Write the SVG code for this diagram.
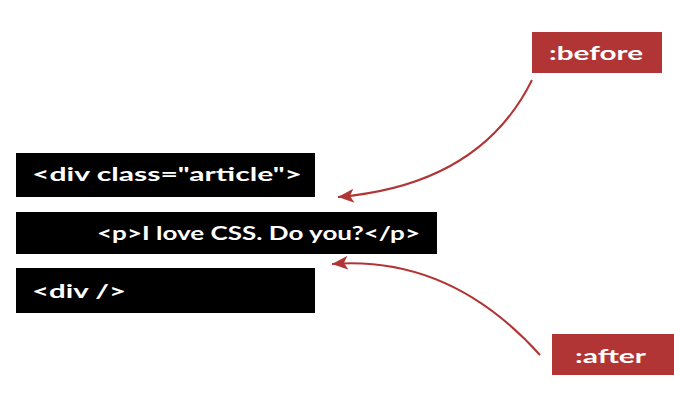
<svg xmlns="http://www.w3.org/2000/svg" width="674" height="416" viewBox="0 0 674 416">
<style>
.code{fill:#000}
.tag{fill:#b23535}
.t{font-family:Lato,"Liberation Sans",sans-serif;font-weight:bold;font-size:19px;fill:#fff}
.arr{fill:none;stroke:#b23535;stroke-width:2}
</style>
<defs>
<marker id="ah" markerUnits="userSpaceOnUse" markerWidth="18" markerHeight="14" refX="16" refY="7" orient="auto">
<path d="M0,0 L16,7 L0,14 L4,7 z" fill="#b23535"/>
</marker>
</defs>
<rect width="674" height="416" fill="#fff"/>
<g id="div-article">
<rect class="code" x="16" y="153" width="299" height="44"/>
<text class="t" x="32" y="181" textLength="270" lengthAdjust="spacingAndGlyphs">&lt;div class="article"&gt;</text>
</g>
<g id="p-node">
<rect class="code" x="16" y="212" width="421" height="42"/>
<text class="t" x="97" y="240" textLength="323" lengthAdjust="spacingAndGlyphs">&lt;p&gt;I love CSS. Do you?&lt;/p&gt;</text>
</g>
<g id="div-close">
<rect class="code" x="16" y="268" width="299" height="45"/>
<text class="t" x="32" y="298" textLength="94" lengthAdjust="spacingAndGlyphs">&lt;div /&gt;</text>
</g>
<g id="before">
<rect class="tag" x="532" y="32" width="130" height="41"/>
<text class="t" x="549" y="60" textLength="94" lengthAdjust="spacingAndGlyphs">:before</text>
</g>
<g id="after">
<rect class="tag" x="552" y="334" width="122" height="41"/>
<text class="t" x="575" y="363" textLength="71" lengthAdjust="spacingAndGlyphs">:after</text>
</g>
<g id="connectors">
<path class="arr" d="M532,80 Q480,185 338,197" marker-end="url(#ah)"/>
<path class="arr" d="M540,355 Q450,255 332,264" marker-end="url(#ah)"/>
</g>
</svg>
